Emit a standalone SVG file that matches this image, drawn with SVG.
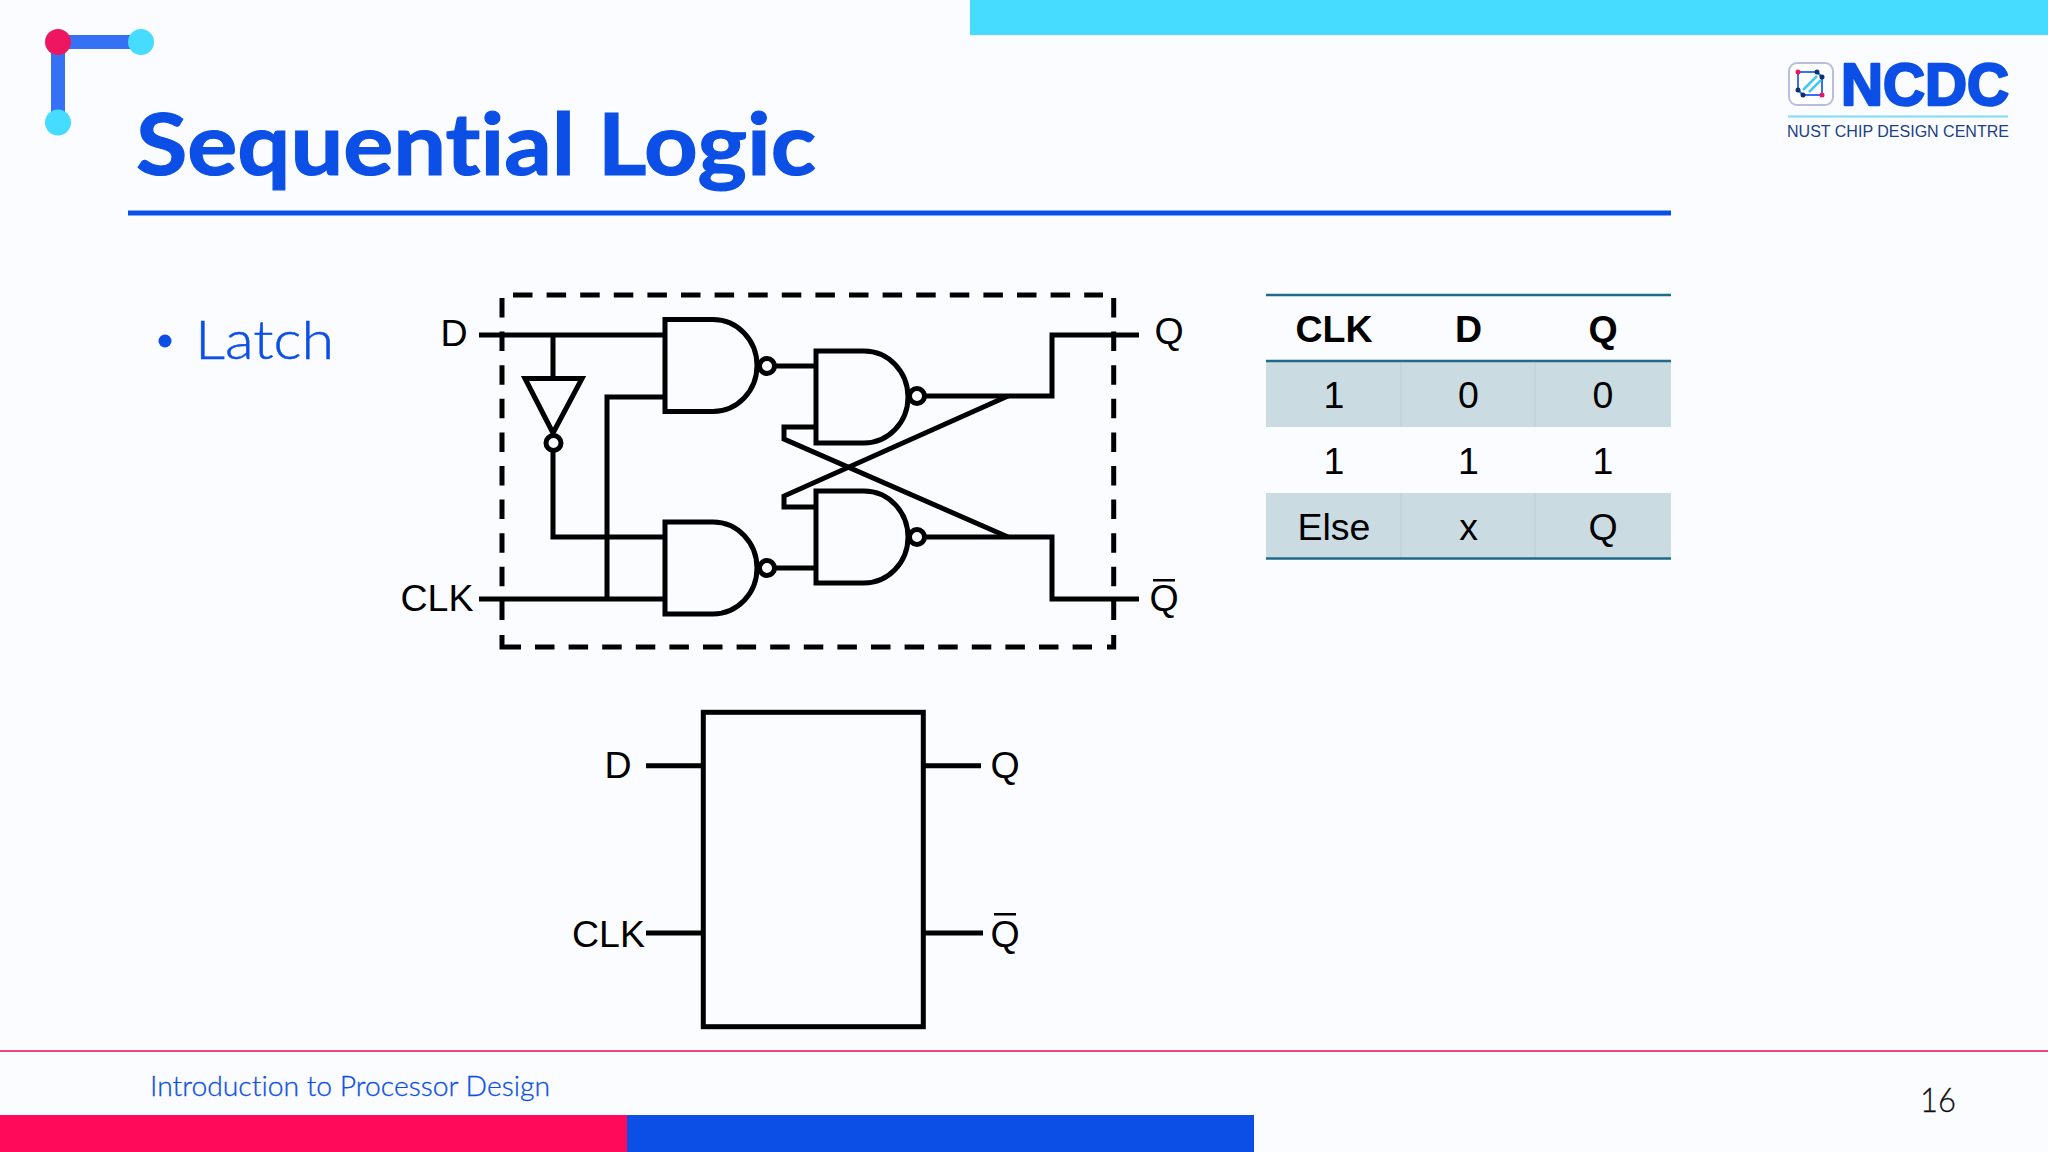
<svg xmlns="http://www.w3.org/2000/svg" width="2048" height="1152" viewBox="0 0 2048 1152">
<style>
.w{fill:none;stroke:#000;stroke-width:5;stroke-linejoin:miter}
.g{fill:none;stroke:#000;stroke-width:5}
.b{fill:#fafcff;stroke:#000;stroke-width:5}
.d{fill:none;stroke:#000;stroke-width:5}
.a{font-family:"Liberation Sans",Arial,sans-serif;fill:#000;font-size:37.500px}
.c{text-anchor:middle}
.u{font-family:"Lato","Inter",sans-serif;font-variant-ligatures:none}
.bl{fill:#0c4fe6}
</style>
<defs>
<path id="nand" class="g" d="M0 0H48A44 46 0 0 1 48 92H0Z"/>
</defs>
<rect width="2048" height="1152" fill="#fafcff"/>
<g id="decor">
<rect x="970" y="0" width="1078" height="35" fill="#45dcff"/>
<path d="M58 42H141M58 42V122" fill="none" stroke="#3570f5" stroke-width="14"/>
<circle cx="58" cy="42" r="13" fill="#ee1660"/>
<circle cx="141" cy="42" r="13" fill="#45dcff"/>
<circle cx="58" cy="122.500" r="13" fill="#45dcff"/>
<rect x="128" y="210.500" width="1543" height="5" class="bl"/>
<rect x="0" y="1050" width="2048" height="2" fill="#ee4a75"/>
<rect x="0" y="1115" width="627" height="37" fill="#ff0a5a"/>
<rect x="627" y="1115" width="627" height="37" class="bl"/>
</g>
<text id="title" x="136" y="175" class="u bl" font-size="87" font-weight="700" stroke="#0c4fe6" stroke-width="1.200" textLength="680" lengthAdjust="spacingAndGlyphs">Sequential Logic</text>
<g id="bullet"><circle cx="165" cy="341" r="6.500" class="bl"/><text x="195" y="358.500" class="u bl" font-size="54" font-weight="300" stroke="#0c4fe6" stroke-width="0.500" textLength="139" lengthAdjust="spacingAndGlyphs">Latch</text></g>
<g id="logo">
<rect x="1789" y="63" width="44" height="42" rx="8" fill="#fff" stroke="#b9bde0" stroke-width="2"/>
<path d="M1798 72H1817L1822 77V95H1803L1798 90Z" fill="none" stroke="#3570f5" stroke-width="2"/>
<path d="M1803 90L1817 76M1809 92L1821 80" stroke="#45c8f0" stroke-width="2.500"/>
<circle cx="1798" cy="72" r="2.500" fill="#ee1660"/><circle cx="1822" cy="95" r="2.500" fill="#ee1660"/>
<circle cx="1817" cy="72" r="2.500" fill="#12306e"/><circle cx="1822" cy="77" r="2.500" fill="#12306e"/><circle cx="1798" cy="90" r="2.500" fill="#12306e"/><circle cx="1803" cy="95" r="2.500" fill="#12306e"/>
<text x="1841" y="104.500" font-family="Liberation Sans, Arial, sans-serif" font-size="59" font-weight="700" class="bl" stroke="#0c4fe6" stroke-width="2.500" stroke-linejoin="round" textLength="168" lengthAdjust="spacingAndGlyphs">NCDC</text>
<rect x="1788" y="115.500" width="220" height="2" fill="#7fdcf5"/>
<text x="1787" y="137" font-family="Liberation Sans, Arial, sans-serif" font-size="16" fill="#1c3f86" textLength="222" lengthAdjust="spacingAndGlyphs">NUST CHIP DESIGN CENTRE</text>
</g>
<g id="latch">
<g id="box">
<path class="d" stroke-dasharray="19.500 14.100" d="M513 295H1103M535 647H1092M502 298V620M1113.700 298V620"/>
<path class="d" d="M502 635V647H521M1113.700 635V647H1107"/>
</g>
<g id="connectors">
<path class="w" d="M479 335H665"/>
<path class="w" d="M553 335V378"/>
<path class="w" d="M553 451V537H665"/>
<path class="w" d="M479 599H665"/>
<path class="w" d="M607 599V397H665"/>
<path class="w" d="M775 366H816"/>
<path class="w" d="M775 568H816"/>
<path class="w" d="M925 396H1052V335H1139"/>
<path class="w" d="M925 537H1052V599H1139"/>
<path class="w" d="M816 427H784V439L1008 537"/>
<path class="w" d="M816 507H784V496L1008 396"/>
</g>
<g id="inv"><path class="g" d="M525 378.500H582L553 433Z"/><circle class="b" cx="553.500" cy="443" r="7.500"/></g>
<g id="g1"><use href="#nand" x="665" y="319.500"/><circle class="b" cx="767" cy="366" r="7.500"/></g>
<g id="g2"><use href="#nand" x="665" y="522"/><circle class="b" cx="767" cy="568" r="7.500"/></g>
<g id="g3"><use href="#nand" x="816" y="351"/><circle class="b" cx="917" cy="396" r="7.500"/></g>
<g id="g4"><use href="#nand" x="816" y="491"/><circle class="b" cx="917" cy="537" r="7.500"/></g>
<text class="a c" x="454" y="346">D</text>
<text class="a" x="400.500" y="611">CLK</text>
<text class="a c" x="1169" y="344">Q</text>
<text class="a c" x="1164" y="611">Q</text>
<rect x="1153" y="579" width="22" height="2.500"/>
</g>
<g id="block">
<rect x="703.300" y="712.300" width="220" height="314.400" fill="none" stroke="#000" stroke-width="5"/>
<path class="w" d="M646 765.700H703M646 933H703M923 765.700H981M923 933H983"/>
<text class="a c" x="618" y="778">D</text>
<text class="a" x="572" y="946.500">CLK</text>
<text class="a c" x="1005" y="778">Q</text>
<text class="a c" x="1005" y="946.500">Q</text>
<rect x="994" y="913" width="22" height="2.500"/>
</g>
<g id="table">
<rect x="1266" y="361" width="405" height="66" fill="#cbdbe2"/>
<rect x="1266" y="493" width="405" height="65" fill="#cbdbe2"/>
<path d="M1401 361V427M1535 361V427M1401 493V558M1535 493V558" stroke="#c2d2d9" stroke-width="1.500"/>
<path d="M1266 295H1671M1266 361H1671M1266 558.500H1671" stroke="#206a8a" stroke-width="2.500"/>
<g class="a c">
<text x="1334" y="342" font-weight="700">CLK</text><text x="1468.500" y="342" font-weight="700">D</text><text x="1603" y="342" font-weight="700">Q</text>
<text x="1334" y="408">1</text><text x="1468.500" y="408">0</text><text x="1603" y="408">0</text>
<text x="1334" y="474">1</text><text x="1468.500" y="474">1</text><text x="1603" y="474">1</text>
<text x="1334" y="540">Else</text><text x="1468.500" y="540">x</text><text x="1603" y="540">Q</text>
</g>
</g>
<text id="footer" x="150" y="1096" class="u bl" font-size="28" font-weight="300" stroke="#0c4fe6" stroke-width="0.300" textLength="400" lengthAdjust="spacingAndGlyphs">Introduction to Processor Design</text>
<text id="page" x="1920" y="1112" class="u" font-size="34" font-weight="300" fill="#111" stroke="#111" stroke-width="0.300" textLength="36" lengthAdjust="spacingAndGlyphs">16</text>
</svg>
